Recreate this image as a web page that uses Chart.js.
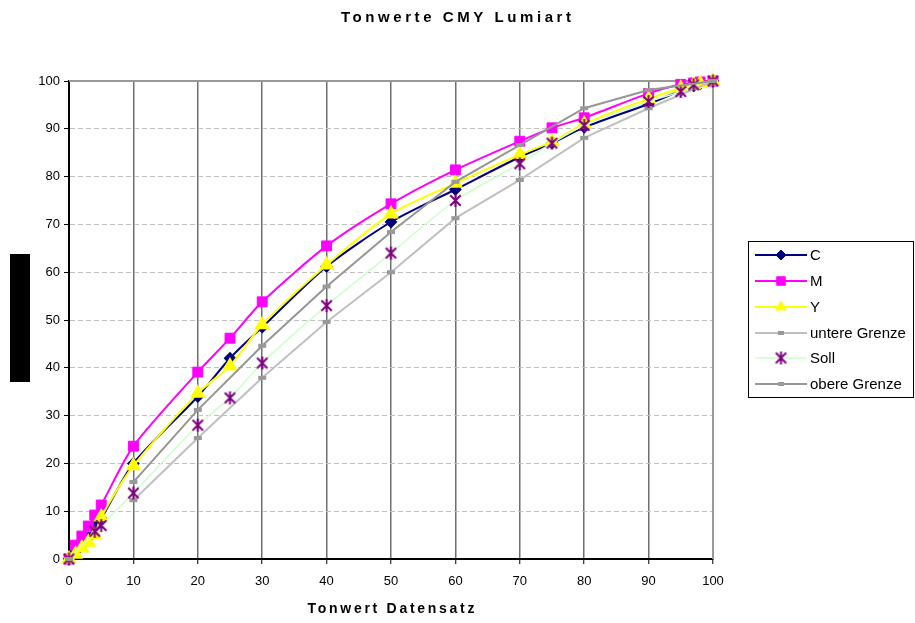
<!DOCTYPE html>
<html><head><meta charset="utf-8">
<script src="https://cdn.jsdelivr.net/npm/chart.js@4/dist/chart.umd.min.js"></script>
<style>html,body{margin:0;padding:0;background:#fff;} #wrap{width:915px;height:623px;}</style>
</head><body><div id="wrap"><canvas id="c" width="915" height="623"></canvas></div>
<script>
// ---- data ----
const TITLE = 'Tonwerte CMY Lumiart';
const X_TITLE = 'Tonwert Datensatz';
const SERIES_NAMES = ['C', 'M', 'Y', 'untere Grenze', 'Soll', 'obere Grenze'];
const xCMY = [0, 1, 2, 3, 4, 5, 10, 20, 25, 30, 40, 50, 60, 70, 75, 80, 90, 95, 97, 98, 100];
const valC = [0, 1.5, 3, 4.5, 7, 8.5, 20, 34, 42, 48.5, 61.2, 70.5, 77.3, 84.1, 87, 90.3, 95.2, 98, 99, 99.4, 100];
const valM = [0, 2.9, 4.8, 6.9, 9.2, 11.3, 23.6, 39.1, 46.2, 53.8, 65.5, 74.3, 81.4, 87.4, 90.2, 92.3, 97.4, 99.3, 99.6, 99.8, 100];
const valY = [0, 1, 2.3, 3.5, 5, 8.8, 19.5, 34.7, 40.4, 49, 61.5, 72.2, 78.6, 84.6, 87.3, 91, 96.3, 98.5, 99.2, 99.5, 100];
const xSoll = [0, 4, 5, 10, 20, 25, 30, 40, 50, 60, 70, 75, 80, 90, 95, 97, 100];
const valSoll = [0, 5.8, 7, 13.8, 28, 33.7, 41, 53, 64, 75, 82.7, 87, 90.7, 95.7, 97.8, 99.2, 100];
const xGrenze = [0, 10, 20, 30, 40, 50, 60, 70, 80, 90, 100];
const valUntere = [0, 12.3, 25.3, 37.9, 49.6, 60, 71.3, 79.3, 88.1, 94.3, 100];
const valObere = [0, 16.1, 31.2, 44.6, 57, 68.4, 78.9, 86.6, 94.3, 98.1, 100];
const xTicks = [0, 10, 20, 30, 40, 50, 60, 70, 80, 90, 100];
const yTicks = [0, 10, 20, 30, 40, 50, 60, 70, 80, 90, 100];

const pts = (xs, ys) => xs.map((x, i) => ({x: x, y: ys[i]}));

// star (asterisk) marker
function makeStar(size, color) {
  const c = document.createElement('canvas');
  c.width = size; c.height = size;
  const g = c.getContext('2d');
  g.strokeStyle = color; g.lineWidth = 2;
  const m = size / 2, r = size / 2 - 1;
  g.beginPath();
  g.moveTo(m - r * 0.8, m - r * 0.8); g.lineTo(m + r * 0.8, m + r * 0.8);
  g.moveTo(m + r * 0.8, m - r * 0.8); g.lineTo(m - r * 0.8, m + r * 0.8);
  g.moveTo(m, m - r); g.lineTo(m, m + r);
  g.stroke();
  return c;
}
const starImg = makeStar(15, '#800080');
const gapFirst = {borderColor: ctx => ctx.p0DataIndex === 0 ? 'rgba(0,0,0,0)' : undefined};

const datasets = [
  {label: SERIES_NAMES[0], data: pts(xCMY, valC), borderColor: '#000080', borderWidth: 2,
   pointStyle: 'rectRot', pointRadius: 5, pointBackgroundColor: '#000080', pointBorderColor: '#000080', order: 6, tension: 0.25},
  {label: SERIES_NAMES[1], data: pts(xCMY, valM), borderColor: '#ff00ff', borderWidth: 2,
   pointStyle: 'rect', pointRadius: 7, pointBackgroundColor: '#ff00ff', pointBorderColor: '#ff00ff', pointBorderWidth: 1, order: 5, tension: 0.25},
  {label: SERIES_NAMES[2], data: pts(xCMY, valY), borderColor: '#ffff00', borderWidth: 2,
   pointStyle: 'triangle', pointRadius: 7, pointBackgroundColor: '#ffff00', pointBorderColor: '#ffff00', order: 4, tension: 0.25},
  {label: SERIES_NAMES[3], data: pts(xGrenze, valUntere), borderColor: '#c0c0c0', borderWidth: 2,
   pointStyle: 'line', pointRadius: 4, pointBorderWidth: 4, pointBorderColor: '#999999', pointBackgroundColor: '#999999', order: 3, tension: 0, segment: gapFirst},
  {label: SERIES_NAMES[4], data: pts(xSoll, valSoll), borderColor: '#ccffcc', borderWidth: 1.5,
   pointStyle: starImg, pointRadius: 7, order: 2, tension: 0.25},
  {label: SERIES_NAMES[5], data: pts(xGrenze, valObere), borderColor: '#969696', borderWidth: 2,
   pointStyle: 'line', pointRadius: 4, pointBorderWidth: 4, pointBorderColor: '#999999', pointBackgroundColor: '#999999', order: 1, tension: 0, segment: gapFirst}
];
datasets.forEach(d => { d.showLine = true; d.clip = false; d.pointHoverRadius = d.pointRadius; });

function drawSpaced(ctx, text, cx, cy, font, target) {
  ctx.font = font;
  ctx.letterSpacing = '0px';
  const w0 = ctx.measureText(text).width;
  const sp = (target - w0) / (text.length - 1);
  ctx.letterSpacing = sp + 'px';
  ctx.textAlign = 'left';
  ctx.textBaseline = 'middle';
  ctx.fillStyle = '#000';
  ctx.fillText(text, cx - target / 2, cy);
  ctx.letterSpacing = '0px';
}

const deco = {
  id: 'deco',
  beforeDraw(chart) {
    const ctx = chart.ctx;
    ctx.save(); ctx.fillStyle = '#fff'; ctx.fillRect(0, 0, chart.width, chart.height); ctx.restore();
  },
  beforeDatasetsDraw(chart) {
    const {ctx, chartArea: a} = chart;
    ctx.save();
    ctx.strokeStyle = '#999'; ctx.lineWidth = 2;
    ctx.beginPath();
    ctx.moveTo(a.left, a.top); ctx.lineTo(a.right, a.top); ctx.lineTo(a.right, a.bottom);
    ctx.stroke();
    ctx.restore();
  },
  afterDraw(chart) {
    const {ctx, chartArea: a} = chart;
    ctx.save();
    ctx.fillStyle = '#000';
    ctx.fillRect(10, 254, 20, 128);
    drawSpaced(ctx, TITLE, 456, 18, 'bold 15px "Liberation Sans", Arial, sans-serif', 230);
    drawSpaced(ctx, X_TITLE, (a.left + a.right) / 2, 609, 'bold 14px "Liberation Sans", Arial, sans-serif', 167);
    // legend
    const lx = 748.5, ly = 241.5, lw = 165, lh = 156;
    ctx.strokeStyle = '#000'; ctx.lineWidth = 1;
    ctx.strokeRect(lx, ly, lw, lh);
    const rowY = [255, 281, 307, 333, 358, 384];
    ctx.font = '15px "Liberation Sans", Arial, sans-serif';
    ctx.textBaseline = 'middle'; ctx.textAlign = 'left';
    datasets.forEach((d, i) => {
      const y = rowY[i];
      ctx.strokeStyle = d.borderColor; ctx.lineWidth = d.borderWidth;
      ctx.beginPath(); ctx.moveTo(755, y); ctx.lineTo(807, y); ctx.stroke();
      let st = d.pointStyle, r = d.pointRadius;
      if (st === 'line') r = 3;
      if (st === 'triangle') r = 6;
      if (st === 'rect') r = 6;
      ctx.fillStyle = d.pointBackgroundColor || '#000';
      ctx.strokeStyle = d.pointBorderColor || '#000';
      ctx.lineWidth = d.pointBorderWidth || 1;
      ctx.beginPath();
      if (st instanceof HTMLCanvasElement) {
        ctx.drawImage(st, 781 - st.width / 2, y - st.height / 2);
      } else {
        Chart.helpers.drawPoint(ctx, {pointStyle: st, radius: r, rotation: 0, borderWidth: ctx.lineWidth}, 781, y);
      }
      ctx.fillStyle = '#000';
      ctx.fillText(d.label, 810, y + 1);
    });
    ctx.restore();
  }
};

new Chart(document.getElementById('c'), {
  type: 'scatter',
  data: {datasets: datasets},
  options: {
    responsive: false,
    animation: false,
    devicePixelRatio: 1,
    layout: {padding: {left: 0, top: 81, right: 202, bottom: 0}},
    plugins: {legend: {display: false}, title: {display: false}, tooltip: {enabled: false}},
    scales: {
      x: {
        type: 'linear', min: 0, max: 100,
        afterBuildTicks(s) { s.ticks = xTicks.map(v => ({value: v})); },
        afterFit(s) { s.height = 64; },
        ticks: {color: '#000', font: {family: '"Liberation Sans", Arial, sans-serif', size: 13}, padding: 10, maxRotation: 0, autoSkip: false},
        grid: {color: c => (c.tick && (c.tick.value === 0 || c.tick.value === 100)) ? 'rgba(0,0,0,0)' : '#707070',
               lineWidth: 1.5, tickColor: '#000', tickLength: 5, tickWidth: 1},
        border: {color: '#000', width: 2}
      },
      y: {
        type: 'linear', min: 0, max: 100,
        afterBuildTicks(s) { s.ticks = yTicks.map(v => ({value: v})); },
        afterFit(s) { s.width = 69; },
        ticks: {color: '#000', font: {family: '"Liberation Sans", Arial, sans-serif', size: 13}, padding: 4, autoSkip: false},
        grid: {color: c => (c.tick && (c.tick.value === 0 || c.tick.value === 100)) ? 'rgba(0,0,0,0)' : '#c0c0c0',
               lineWidth: 1, tickColor: '#000', tickLength: 5, tickWidth: 1},
        border: {color: '#000', width: 2, dash: [5, 3]}
      }
    }
  },
  plugins: [deco]
});
</script></body></html>
